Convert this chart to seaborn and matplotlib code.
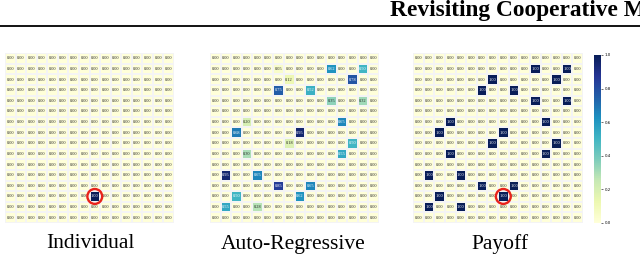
import numpy as np
import pandas as pd
import matplotlib
matplotlib.use("Agg")
import matplotlib.pyplot as plt
from matplotlib.patches import Circle
from matplotlib.lines import Line2D
import seaborn as sns

# ---------------- data ----------------
grid_size = 16
titles = ["Individual", "Auto-Regressive", "Payoff"]
header_text = "Revisiting Cooperative Multi-Agent"

# non-zero cells: (row, col, value)
individual_cells = [(13, 8, 1.00)]
autoreg_cells = [
    (1, 6, 0.05), (1, 11, 0.62), (1, 14, 0.50),
    (2, 7, 0.12), (2, 13, 0.78),
    (3, 6, 0.75), (3, 9, 0.52),
    (4, 11, 0.35), (4, 14, 0.32),
    (6, 3, 0.20), (6, 12, 0.65),
    (7, 2, 0.68), (7, 8, 0.95),
    (8, 7, 0.18), (8, 13, 0.50),
    (9, 3, 0.30), (9, 12, 0.55),
    (11, 1, 0.95), (11, 4, 0.65),
    (12, 6, 0.85), (12, 9, 0.65),
    (13, 2, 0.50), (13, 8, 0.62),
    (14, 1, 0.55), (14, 4, 0.28),
]
payoff_cells = [
    (1, 11, 1.0), (1, 14, 1.0), (2, 7, 1.0), (2, 13, 1.0),
    (3, 6, 1.0), (3, 9, 1.0), (4, 11, 1.0), (4, 14, 1.0),
    (6, 3, 1.0), (6, 12, 1.0), (7, 2, 1.0), (7, 8, 1.0),
    (8, 7, 1.0), (8, 13, 1.0), (9, 3, 1.0), (9, 12, 1.0),
    (11, 1, 1.0), (11, 4, 1.0), (12, 6, 1.0), (12, 9, 1.0),
    (13, 2, 1.0), (13, 8, 1.0), (14, 1, 1.0), (14, 4, 1.0),
]
highlight_individual = (13, 8)
highlight_payoff = (13, 8)
cbar_ticks = [0.0, 0.2, 0.4, 0.6, 0.8, 1.0]


def build(cells):
    m = np.zeros((grid_size, grid_size))
    for r, c, v in cells:
        m[r, c] = v
    return pd.DataFrame(m)


mats = [build(individual_cells), build(autoreg_cells), build(payoff_cells)]
highlights = [highlight_individual, None, highlight_payoff]

# ---------------- figure ----------------
W, H = 640, 264
fig = plt.figure(figsize=(W / 100, H / 100), dpi=100)


def rect(x0, y0, x1, y1):
    return [x0 / W, 1 - y1 / H, (x1 - x0) / W, (y1 - y0) / H]


ax_boxes = [(5, 53, 174, 223), (210, 53, 379, 223), (413, 53, 583, 223)]
title_x = [90, 293, 500]
cax = fig.add_axes(rect(594, 55, 601, 223))

for i, (mat, box) in enumerate(zip(mats, ax_boxes)):
    ax = fig.add_axes(rect(*box))
    sns.heatmap(
        mat, ax=ax, cmap="YlGnBu", vmin=0, vmax=1,
        annot=True, fmt=".2f",
        annot_kws={"fontsize": 3.2, "family": "Liberation Serif"},
        linewidths=0.3, linecolor="#f4f4f4",
        cbar=(i == 2), cbar_ax=cax if i == 2 else None,
        xticklabels=False, yticklabels=False, square=False,
    )
    ax.tick_params(left=False, bottom=False)
    hl = highlights[i]
    if hl is not None:
        r, c = hl
        ax.add_patch(Circle((c + 0.5, r + 0.5), 0.7, fill=False,
                            edgecolor="#e8231b", linewidth=1.7, zorder=5))
    fig.text(title_x[i] / W, 1 - 244 / H, titles[i], ha="center", va="center",
             fontsize=15.5, family="Liberation Serif")

cax.tick_params(labelsize=2.8, length=1.5, width=0.4, pad=1)
cax.set_yticks(cbar_ticks)
cax.set_yticklabels([f"{t:.1f}" for t in cbar_ticks])

# header
fig.text(390 / W, 1 - 10.5 / H, header_text, ha="left", va="center",
         fontsize=16.8, fontweight="bold", family="Liberation Serif")
fig.add_artist(Line2D([0, 1], [1 - 25.5 / H, 1 - 25.5 / H],
                      transform=fig.transFigure, color="black", linewidth=1.3))

fig.savefig("out.png", dpi=100)
